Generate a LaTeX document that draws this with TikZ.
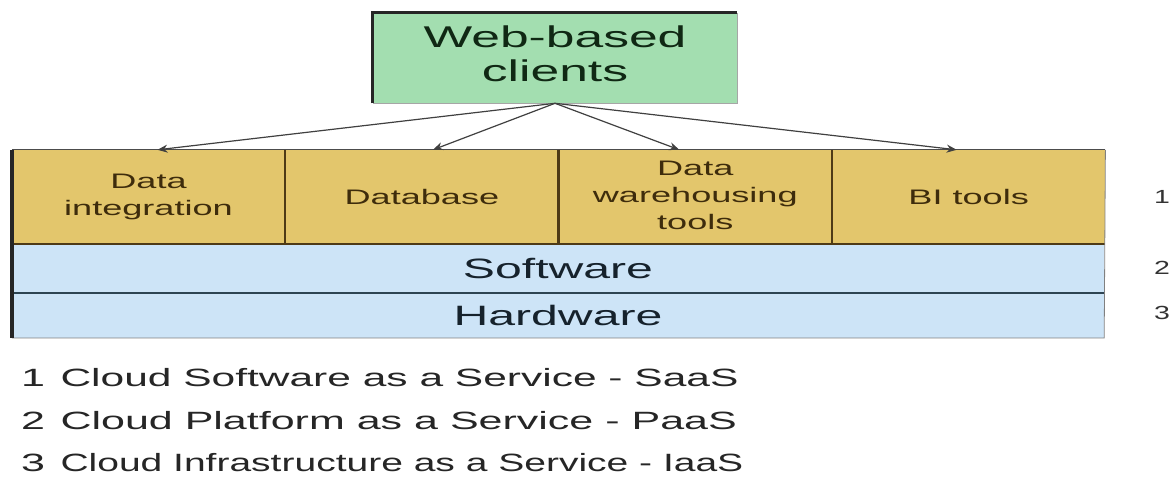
\documentclass[tikz,border=0pt]{standalone}
\usepackage{fontspec}
\setmainfont{Liberation Sans}
\usepackage{xcolor}
\usepackage{tikz}
\usetikzlibrary{positioning,arrows.meta}

\definecolor{clientgreen}{RGB}{163,222,176}
\definecolor{clienttext}{RGB}{16,40,20}
\definecolor{saasyellow}{RGB}{227,198,108}
\definecolor{layerblue}{RGB}{205,228,247}
\definecolor{celltext}{RGB}{62,44,12}
\definecolor{cellline}{RGB}{78,58,22}
\definecolor{layerline}{RGB}{45,68,82}
\definecolor{layertext}{RGB}{22,34,44}
\newcommand{\widetext}[2][1.72]{\scalebox{#1}[1]{#2}}

\begin{document}
\begin{tikzpicture}[x=1pt,y=-1pt,
    client/.style={fill=clientgreen, draw=gray!70, line width=0.6pt, minimum width=364pt, minimum height=90pt,
        inner sep=0pt, text=clienttext, font=\fontsize{30}{34}\selectfont},
    cell/.style={fill=saasyellow, minimum width=273pt, minimum height=94pt, inner sep=0pt,
        text=celltext, font=\fontsize{21}{27}\selectfont},
    layer/.style={fill=layerblue, minimum width=1092pt, inner sep=0pt,
        text=layertext, font=\fontsize{28}{30}\selectfont},
    feed/.style={draw=black!75, line width=1.2pt, -{Stealth[length=10pt,width=8pt]}},
    level/.style={text=black!80, font=\fontsize{19}{20}\selectfont},
    legend/.style={text=black!85, font=\fontsize{25}{26}\selectfont}]
    \fill[white] (0,0) rectangle (1173,479);
    \useasboundingbox (0,0) rectangle (1173,479);

    % Clients
    \node[client] (clients) at (555,58) {\widetext{\begin{tabular}{@{}c@{}}Web-based\\clients\end{tabular}}};
    \draw[black!85, line width=3pt] (clients.south west) |- (clients.north east);

    % SaaS tools
    \node[cell] (dataint) at (148.5,197) {\widetext{\begin{tabular}{@{}c@{}}Data\\integration\end{tabular}}};
    \node[cell, right=0pt of dataint] (database) {\widetext{Database}};
    \node[cell, right=0pt of database] (datawh) {\widetext{\begin{tabular}{@{}c@{}}Data\\warehousing\\tools\end{tabular}}};
    \node[cell, right=0pt of datawh] (bitools) {\widetext{BI tools}};

    % Platform and infrastructure
    \node[layer, minimum height=48pt, anchor=north west] (software) at (dataint.south west) {\widetext{Software}};
    \node[layer, minimum height=45pt, below=0pt of software] (hardware) {\widetext{Hardware}};

    % Table lines
    \draw[black!70, line width=0.8pt] (dataint.north west) -- (bitools.north east);
    \draw[cellline, line width=2.5pt] (dataint.north east) -- (dataint.south east);
    \draw[cellline, line width=2.5pt] (database.north east) -- (database.south east);
    \draw[cellline, line width=2.5pt] (datawh.north east) -- (datawh.south east);
    \draw[cellline, line width=1.5pt] (dataint.south west) -- (bitools.south east);
    \draw[layerline, line width=1.8pt] (software.south west) -- (software.south east);
    \draw[gray, line width=0.8pt] (bitools.north east) -- (hardware.south east) -- (hardware.south west);
    \draw[black!85, line width=3.5pt] (dataint.north west) -- (hardware.south west);

    % Arrows
    \draw[feed] (clients.south) -- ([xshift=9pt]dataint.north);
    \draw[feed] (clients.south) -- ([xshift=11pt]database.north);
    \draw[feed] (clients.south) -- ([xshift=-16pt]datawh.north);
    \draw[feed] (clients.south) -- ([xshift=-12pt]bitools.north);

    % Levels
    \node[level] (lvl1) at (1162,197) {\widetext[1.5]{1}};
    \node[level] (lvl2) at (1162,268) {\widetext[1.5]{2}};
    \node[level] (lvl3) at (1162,313) {\widetext[1.5]{3}};

    % Legend
    \node[legend, anchor=base] (saasnum) at (33,386) {\widetext{1}};
    \node[legend, anchor=base west] (saas) at (57,386) {\widetext[1.70]{Cloud Software as a Service - SaaS}};
    \node[legend, anchor=base] (paasnum) at (33,429) {\widetext{2}};
    \node[legend, anchor=base west] (paas) at (57,429) {\widetext{Cloud Platform as a Service - PaaS}};
    \node[legend, anchor=base] (iaasnum) at (33,471) {\widetext{3}};
    \node[legend, anchor=base west] (iaas) at (57,471) {\widetext[1.56]{Cloud Infrastructure as a Service - IaaS}};
\end{tikzpicture}
\end{document}
